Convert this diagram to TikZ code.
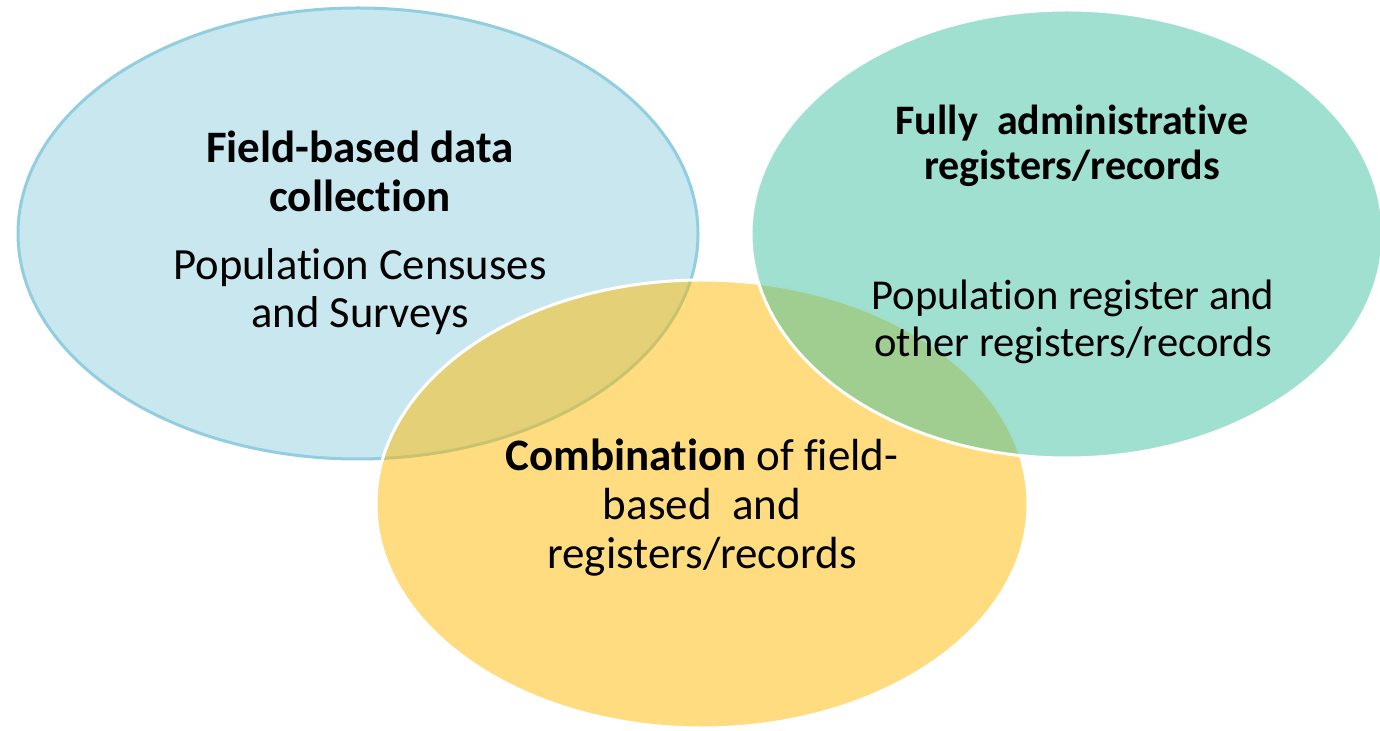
\documentclass[tikz,border=0pt]{standalone}
\usepackage{fontspec}
\setmainfont[Ligatures=NoCommon]{Carlito}

\definecolor{fieldfill}{HTML}{C8E7EF}
\definecolor{fieldedge}{HTML}{92CEE0}
\definecolor{combofill}{HTML}{FFBA00}
\definecolor{adminfill}{HTML}{41C1A1}

\tikzset{
  heading/.style={font=\fontsize{22.5}{24.5}\selectfont\bfseries, align=center, anchor=base, inner sep=0pt},
  body/.style={font=\fontsize{22.3}{24}\selectfont, align=center, anchor=base, inner sep=0pt},
  overlay ring/.style={draw=white, line width=1.5pt, fill opacity=0.5}
}

\begin{document}
\begin{tikzpicture}[x=0.5pt, y=-0.5pt]
  \useasboundingbox (0,0) rectangle (1380,731);

  % Draw the three sets
  \draw[fieldedge, line width=1.5pt, fill=fieldfill] (358,233.5) ellipse [x radius=340, y radius=225.5];
  \draw[overlay ring, fill=combofill] (702,504) ellipse [x radius=326, y radius=224];
  \draw[overlay ring, fill=adminfill] (1067,234) ellipse [x radius=316, y radius=224];

  % Labels (anchored at the baseline of the last line)
  \node[heading] (fieldtitle) at (360,212) {Field-based data\\collection};
  \node[body] (fieldtext) at (360,328) {Population Censuses\\and Surveys};

  \node[heading, font=\fontsize{21}{22.5}\selectfont\bfseries] (admintitle) at (1072,180) {Fully\ \ administrative\\registers/records};
  \node[body, font=\fontsize{21.3}{23.5}\selectfont] (admintext) at (1073,357) {Population register and\\other registers/records};

  \node[body, font=\fontsize{22.5}{24.5}\selectfont] (combotext) at (702,568) {\textbf{Combination} of field-\\based\ \ and\\registers/records};
\end{tikzpicture}
\end{document}
